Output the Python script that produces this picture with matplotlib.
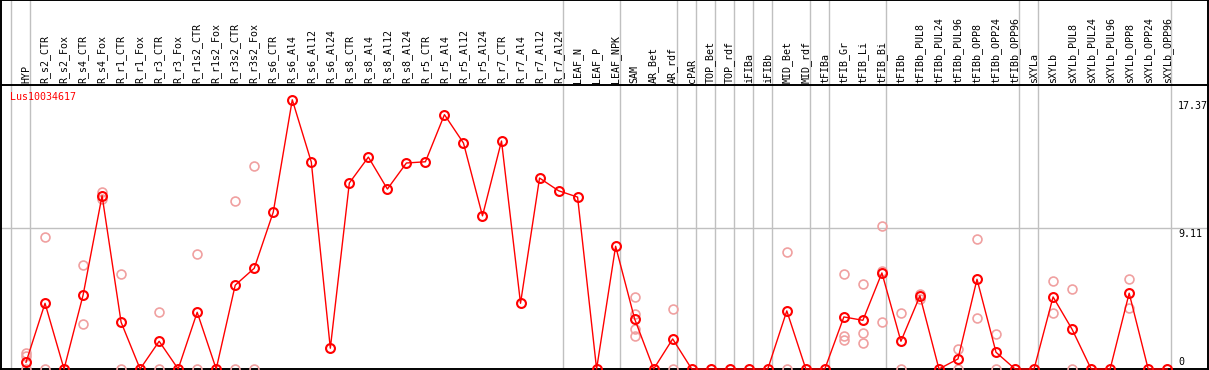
import matplotlib
matplotlib.use("Agg")
import matplotlib.pyplot as plt
import numpy as np

# ---------------- data ----------------
gene_id = "Lus10034617"
samples = ["HYP", "R_s2_CTR", "R_s2_Fox", "R_s4_CTR", "R_s4_Fox", "R_r1_CTR", "R_r1_Fox",
           "R_r3_CTR", "R_r3_Fox", "R_r1s2_CTR", "R_r1s2_Fox", "R_r3s2_CTR", "R_r3s2_Fox",
           "R_s6_CTR", "R_s6_Al4", "R_s6_Al12", "R_s6_Al24", "R_s8_CTR", "R_s8_Al4", "R_s8_Al12",
           "R_s8_Al24", "R_r5_CTR", "R_r5_Al4", "R_r5_Al12", "R_r5_Al24", "R_r7_CTR", "R_r7_Al4",
           "R_r7_Al12", "R_r7_Al24", "LEAF_N", "LEAF_P", "LEAF_NPK", "SAM", "AR_Bet", "AR_rdf",
           "cPAR", "TOP_Bet", "TOP_rdf", "iFIBa", "iFIBb", "MID_Bet", "MID_rdf", "tFIBa",
           "tFIB_Gr", "tFIB_Li", "tFIB_Bi", "tFIBb", "tFIBb_PUL8", "tFIBb_PUL24", "tFIBb_PUL96",
           "tFIBb_OPP8", "tFIBb_OPP24", "tFIBb_OPP96", "sXYLa", "sXYLb", "sXYLb_PUL8",
           "sXYLb_PUL24", "sXYLb_PUL96", "sXYLb_OPP8", "sXYLb_OPP24", "sXYLb_OPP96"]

mean_values = [0.43, 4.24, 0.0, 4.76, 11.18, 3.02, 0.0,
               1.79, 0.0, 3.66, 0.0, 5.41, 6.50,
               10.12, 17.37, 13.35, 1.34, 12.00, 13.67, 11.61,
               13.29, 13.37, 16.41, 14.58, 9.88, 14.71, 4.24,
               12.32, 11.50, 11.09, 0.0, 7.92, 3.23, 0.0, 1.94,
               0.0, 0.0, 0.0, 0.0, 0.0, 3.75, 0.0, 0.0,
               3.36, 3.14, 6.20, 1.79, 4.72, 0.0, 0.65,
               5.79, 1.08, 0.0, 0.0, 4.65, 2.56,
               0.0, 0.0, 4.89, 0.0, 0.0]

replicate_values = [[1.05, 0.84, 0.0], [8.50, 0.0], [], [6.70, 2.89], [11.39, 10.96], [6.11, 0.0], [],
                    [3.66, 0.0], [], [7.41, 0.0], [], [10.85, 0.0], [13.09, 0.0],
                    [], [], [], [], [], [], [],
                    [], [], [], [], [], [], [],
                    [], [], [], [], [], [4.63, 3.53, 2.58, 2.11], [], [3.86, 0.0],
                    [], [], [], [], [], [7.54, 0.0], [], [],
                    [6.12, 2.15, 1.85], [5.47, 2.30, 1.66], [9.24, 6.35, 3.02], [3.60, 0.0],
                    [4.84, 4.50], [], [1.29, 0.0],
                    [8.38, 3.27], [2.26, 0.0], [], [], [5.68, 3.60], [5.17, 0.0],
                    [], [], [5.81, 3.92], [], []]

group_ends = [-1, 0, 28, 31, 34, 35, 36, 37, 38, 39, 41, 42, 45, 52, 53, 60]
y_ticks = [0, 9.11, 17.37]
y_tick_labels = ["0", "9.11", "17.37"]

# ---------------- layout ----------------
W, H = 1209, 370
col0_px, col_px = 26.0, 19.02
zero_px_from_top, px_per_unit = 369.0, 15.5
header_px_from_top = 85.0

fig = plt.figure(figsize=(W / 100, H / 100), dpi=100)
ax = fig.add_axes([0, 0, 1, 1])
ax.set_xlim(-col0_px / col_px, (W - col0_px) / col_px)
ax.set_ylim((zero_px_from_top - H) / px_per_unit, zero_px_from_top / px_per_unit)
ax.set_xticks([])
ax.set_yticks([])
for s in ax.spines.values():
    s.set_visible(False)

header_val = (zero_px_from_top - header_px_from_top) / px_per_unit
top_val = zero_px_from_top / px_per_unit

grey = "#c0c0c0"
for g in group_ends:
    ax.axvline(g + 0.21, color=grey, lw=1.0, zorder=1)
ax.axhline(y_ticks[1], color=grey, lw=1.0, zorder=1)

ax.axhline(0, color="black", lw=1.4, zorder=2)
ax.axhline(header_val, color="black", lw=1.4, zorder=2)
ax.axhline(top_val - 0.03, color="black", lw=1.4, zorder=2)
ax.axvline(ax.get_xlim()[0] + 0.04, color="black", lw=1.4, zorder=2)
ax.axvline(ax.get_xlim()[1] - 0.04, color="black", lw=1.4, zorder=2)

x = np.arange(len(samples))
rx, ry = [], []
for i, reps in enumerate(replicate_values):
    for v in reps:
        rx.append(i)
        ry.append(v)
ax.plot(rx, ry, linestyle="none", marker="o", ms=6.4, mfc="none", mec="#f0a0a0",
        mew=1.2, zorder=3, clip_on=False)

ax.plot(x, mean_values, color="#ff0000", lw=1.0, zorder=4, clip_on=False)
ax.plot(x, mean_values, linestyle="none", marker="o", ms=6.4, mfc="none", mec="#ff0000",
        mew=1.5, zorder=5, clip_on=False)

mono = "DejaVu Sans Mono"
for i, lab in enumerate(samples):
    ax.text(i, header_val + 0.12, lab, rotation=90, ha="center", va="bottom",
            fontsize=7.2, family=mono, color="black")

tr = ax.get_yaxis_transform()
ax.text(10 / W, (zero_px_from_top - 97) / px_per_unit, gene_id, transform=tr,
        ha="left", va="center", fontsize=7.2, family=mono, color="#ff0000")

tick_x = 1178 / W
ax.text(tick_x, y_ticks[2] - 0.05, y_tick_labels[2], transform=tr, ha="left", va="top",
        fontsize=7.2, family=mono)
ax.text(tick_x, y_ticks[1] - 0.05, y_tick_labels[1], transform=tr, ha="left", va="top",
        fontsize=7.2, family=mono)
ax.text(tick_x, y_ticks[0] + 0.15, y_tick_labels[0], transform=tr, ha="left", va="bottom",
        fontsize=7.2, family=mono)

fig.savefig("out.png", dpi=100)
